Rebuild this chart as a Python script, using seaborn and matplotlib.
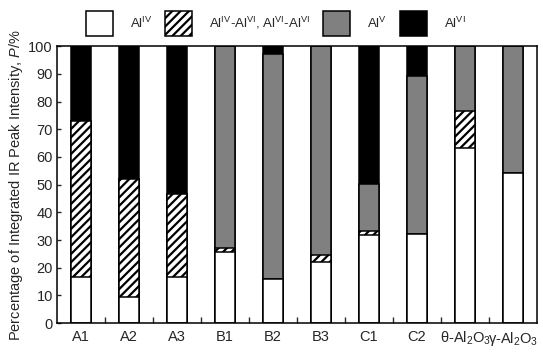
import numpy as np
import pandas as pd
import matplotlib
matplotlib.use("Agg")
import matplotlib.pyplot as plt
import seaborn as sns
from matplotlib.patches import Patch
from matplotlib.ticker import FixedLocator

# ------------------------------------------------------------
# Data (percent of integrated IR peak intensity, per segment)
# ------------------------------------------------------------
samples = ["A1", "A2", "A3", "B1", "B2", "B3", "C1", "C2",
           "θ-Al$_2$O$_3$", "γ-Al$_2$O$_3$"]
al_iv    = [16.5, 9.3, 16.7, 25.5, 15.8, 22.1, 31.8, 32.0, 63.3, 54.3]
al_mixed = [56.4, 42.9, 29.8, 1.8, 0.0, 2.4, 1.5, 0.0, 13.2, 0.0]
al_v     = [0.0, 0.0, 0.0, 72.7, 81.2, 75.5, 17.1, 57.3, 23.5, 45.7]
al_vi    = [27.1, 47.8, 53.5, 0.0, 3.0, 0.0, 49.6, 10.7, 0.0, 0.0]

legend_labels = [r"Al$^{\mathrm{IV}}$",
                 r"Al$^{\mathrm{IV}}$-Al$^{\mathrm{VI}}$, Al$^{\mathrm{VI}}$-Al$^{\mathrm{VI}}$",
                 r"Al$^{\mathrm{V}}$",
                 r"Al$^{\mathrm{VI}}$"]

# ------------------------------------------------------------
# Style
# ------------------------------------------------------------
sns.set_style("white")
plt.rcParams["font.family"] = ["Liberation Sans", "DejaVu Sans"]
plt.rcParams["mathtext.fontset"] = "custom"
plt.rcParams["mathtext.rm"] = "Liberation Sans"
plt.rcParams["mathtext.it"] = "Liberation Sans:italic"
plt.rcParams["mathtext.default"] = "regular"
plt.rcParams["hatch.linewidth"] = 1.6
plt.rcParams["hatch.color"] = "black"

df = pd.DataFrame({"sample": samples, "iv": al_iv, "mixed": al_mixed,
                   "v": al_v, "vi": al_vi})
df["c_iv"] = df["iv"]
df["c_mixed"] = df["c_iv"] + df["mixed"]
df["c_v"] = df["c_mixed"] + df["v"]
df["c_vi"] = df["c_v"] + df["vi"]

fig = plt.figure(figsize=(5.43, 3.52), dpi=100)
ax = fig.add_axes([0.105, 0.082, 0.884, 0.787])

# stacked bars drawn as overlaid cumulative bars (top layer first)
layers = [
    ("c_vi", "black", None),
    ("c_v", "#808080", None),
    ("c_mixed", "white", "////"),
    ("c_iv", "white", None),
]
for col, fc, hatch in layers:
    sns.barplot(data=df, x="sample", y=col, order=samples, color=fc,
                saturation=1, width=0.4, edgecolor="black", linewidth=1.1,
                hatch=hatch, ax=ax)

ax.set_xlim(-0.5, len(samples) - 0.5)
ax.set_ylim(0, 100)
ax.set_yticks(np.arange(0, 101, 10))
ax.set_xlabel("")
ax.set_ylabel(r"Percentage of Integrated IR Peak Intensity, $\mathit{P}$/%",
              fontsize=10.5, labelpad=2)
ax.tick_params(axis="y", direction="in", length=3, width=1, labelsize=10.5,
               left=True, pad=3)
ax.tick_params(axis="x", which="major", length=0, labelsize=10.5, pad=5)
ax.xaxis.set_minor_locator(FixedLocator(np.arange(0.5, len(samples) - 1, 1)))
ax.tick_params(axis="x", which="minor", direction="in", length=4, width=1,
               bottom=True)
for s in ax.spines.values():
    s.set_color("black")
    s.set_linewidth(1.1)

handles = [
    Patch(facecolor="white", edgecolor="black", linewidth=1.1),
    Patch(facecolor="white", edgecolor="black", linewidth=1.1, hatch="////"),
    Patch(facecolor="#808080", edgecolor="black", linewidth=1.1),
    Patch(facecolor="black", edgecolor="black", linewidth=1.1),
]
fig.legend(handles, legend_labels, ncol=4, loc="center left",
           bbox_to_anchor=(0.148, 0.933), frameon=False, fontsize=9.5,
           handlelength=2.05, handleheight=2.6, handletextpad=1.3,
           columnspacing=0.95, borderaxespad=0.0)

fig.savefig("out.png", dpi=100)
